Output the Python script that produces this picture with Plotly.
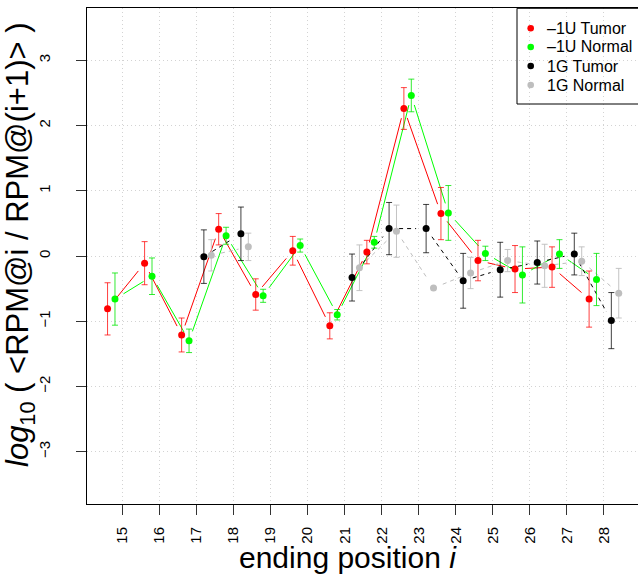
import math
import plotly.graph_objects as go

# ---------------- data ----------------
positions = list(range(15, 29))
tick_labels = [str(p) for p in positions]
series_names = ["\u20131U Tumor", "\u20131U Normal", "1G Tumor", "1G Normal"]
series_offsets = [-0.4, -0.2, 0.2, 0.4]

u1_tumor = [-0.81, -0.11, -1.21, 0.41, -0.59, 0.08, -1.07, 0.06, 2.26, 0.65, -0.07, -0.20, -0.17, -0.66]
u1_tumor_err = [0.40, 0.33, 0.26, 0.24, 0.24, 0.22, 0.20, 0.18, 0.32, 0.40, 0.31, 0.36, 0.31, 0.43]

u1_normal = [-0.66, -0.31, -1.30, 0.31, -0.61, 0.16, -0.90, 0.21, 2.46, 0.66, 0.04, -0.29, 0.03, -0.36]
u1_normal_err = [0.40, 0.28, 0.18, 0.13, 0.10, 0.10, 0.08, 0.09, 0.25, 0.42, 0.11, 0.43, 0.22, 0.40]

g1_tumor = [None, None, -0.01, 0.34, None, None, -0.33, 0.42, 0.42, -0.38, -0.21, -0.10, 0.03, -0.99]
g1_tumor_err = [None, None, 0.41, 0.41, None, None, 0.36, 0.40, 0.37, 0.42, 0.42, 0.33, 0.32, 0.43]

g1_normal = [None, None, 0.01, 0.14, None, None, -0.18, 0.38, -0.49, -0.26, -0.07, -0.15, -0.08, -0.57]
g1_normal_err = [None, None, 0.24, 0.21, None, None, 0.35, 0.40, None, 0.24, 0.17, 0.33, 0.22, 0.38]

series_values = [u1_tumor, u1_normal, g1_tumor, g1_normal]
series_errors = [u1_tumor_err, u1_normal_err, g1_tumor_err, g1_normal_err]

# ---------------- style ----------------
colors = ["#FF0000", "#00FF00", "#000000", "#BEBEBE"]
err_colors = ["rgba(255,0,0,0.75)", "rgba(0,230,0,0.8)", "rgba(0,0,0,0.75)", "rgba(190,190,190,0.9)"]
line_dash = ["solid", "solid", "4px,4px", "4px,4px"]

W, H = 638, 574
ML, MR, MT, MB = 87, 0, 8, 70
PW, PH = W - ML - MR, H - MT - MB
XR = [14.045, 28.92]
YR = [-3.8, 3.8]
SX = PW / (XR[1] - XR[0])
SY = PH / (YR[1] - YR[0])
GAP = 10  # px gap between line ends and points (R type="b")
FONT = "Liberation Sans, Arial, Helvetica, sans-serif"


def gapped(xs, ys):
    X, Y = [], []
    for i in range(len(xs) - 1):
        x0, y0, x1, y1 = xs[i], ys[i], xs[i + 1], ys[i + 1]
        if y0 is None or y1 is None:
            continue
        dx, dy = (x1 - x0) * SX, (y1 - y0) * SY
        d = math.hypot(dx, dy)
        if d <= 2 * GAP:
            continue
        f = GAP / d
        X += [x0 + (x1 - x0) * f, x1 - (x1 - x0) * f, None]
        Y += [y0 + (y1 - y0) * f, y1 - (y1 - y0) * f, None]
    return X, Y


fig = go.Figure()

for k in range(4):
    xs = [p + series_offsets[k] for p in positions]
    ys = series_values[k]
    lx, ly = gapped(xs, ys)
    fig.add_trace(go.Scatter(
        x=lx, y=ly, mode="lines",
        line=dict(color=colors[k], width=1, dash=line_dash[k]),
        hoverinfo="skip", showlegend=False,
    ))

for k in range(4):
    xs = [p + series_offsets[k] for p in positions]
    fig.add_trace(go.Scatter(
        x=xs, y=series_values[k], mode="markers", name=series_names[k],
        marker=dict(color=colors[k], size=7, line=dict(width=0)),
        error_y=dict(type="data", array=series_errors[k], visible=True,
                     color=err_colors[k], thickness=1, width=3),
        showlegend=False,
    ))

# ---------------- manual legend (R style) ----------------
def px2paper_x(px):
    return (px - ML) / PW


def px2paper_y(py):
    return (MT + PH - py) / PH


shapes = [dict(type="rect", xref="paper", yref="paper",
               x0=px2paper_x(517), x1=px2paper_x(660),
               y0=px2paper_y(104), y1=px2paper_y(8.3),
               line=dict(color="black", width=1), fillcolor="rgba(0,0,0,0)")]
annotations = []
legend_rows = [28.3, 47.0, 66.0, 85.0]
for k in range(4):
    cy = px2paper_y(legend_rows[k])
    cx = px2paper_x(530.7)
    shapes.append(dict(type="circle", xref="paper", yref="paper",
                       xsizemode="pixel", ysizemode="pixel",
                       xanchor=cx, yanchor=cy, x0=-3.3, x1=3.3, y0=-3.3, y1=3.3,
                       fillcolor=colors[k], line=dict(width=0)))
    annotations.append(dict(xref="paper", yref="paper", x=px2paper_x(545), y=cy,
                            xanchor="left", yanchor="middle", showarrow=False,
                            text=series_names[k], font=dict(size=16, color="black", family=FONT)))

# axis titles as annotations
annotations.append(dict(xref="paper", yref="paper", x=px2paper_x(348), y=px2paper_y(557),
                        xanchor="center", yanchor="middle", showarrow=False,
                        text="ending position <i>i</i>", font=dict(size=30, color="black", family=FONT)))
annotations.append(dict(xref="paper", yref="paper", x=px2paper_x(20), y=px2paper_y(245),
                        xanchor="center", yanchor="middle", showarrow=False, textangle=-90,
                        text="<i>log</i><sub>10</sub> ( &lt;RPM@i / RPM@(i+1)&gt; )",
                        font=dict(size=31, color="black", family=FONT)))

fig.update_layout(
    width=W, height=H,
    margin=dict(l=ML, r=MR, t=MT, b=MB, pad=0),
    paper_bgcolor="white", plot_bgcolor="white",
    showlegend=False,
    shapes=shapes, annotations=annotations,
    font=dict(family=FONT, color="black"),
    xaxis=dict(range=XR, tickvals=positions, ticktext=tick_labels, tickangle=-90,
               ticks="outside", ticklen=10, tickcolor="#333", tickwidth=1,
               showline=True, linecolor="black", linewidth=1, mirror=True,
               showgrid=True, gridcolor="#D3D3D3", griddash="1px,3px", gridwidth=1,
               zeroline=False, tickfont=dict(size=15, family=FONT, color="black"),
               ticklabelstandoff=6, automargin=False),
    yaxis=dict(range=YR, tickvals=[-3, -2, -1, 0, 1, 2, 3], tickangle=-90,
               ticks="outside", ticklen=10, tickcolor="#333", tickwidth=1,
               showline=True, linecolor="black", linewidth=1, mirror=False,
               showgrid=True, gridcolor="#D3D3D3", griddash="1px,3px", gridwidth=1,
               zeroline=False, tickfont=dict(size=15, family=FONT, color="black"),
               ticklabelstandoff=20, automargin=False),
)

fig.write_html("out.html")
